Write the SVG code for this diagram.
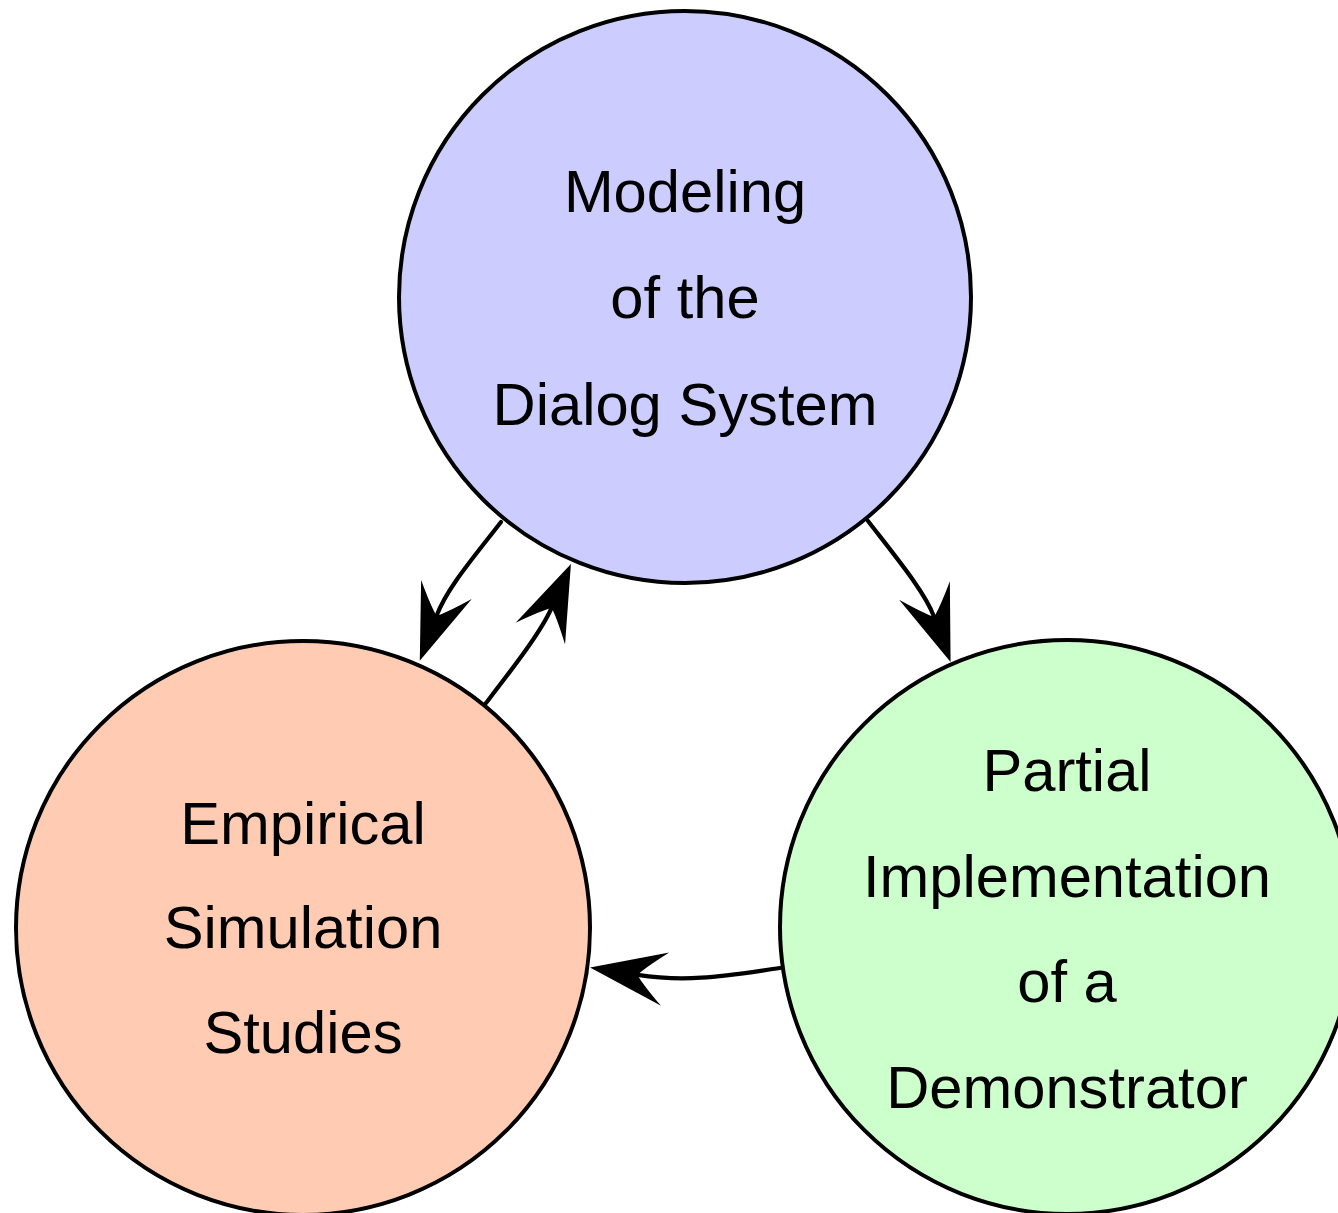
<svg xmlns="http://www.w3.org/2000/svg" width="1338" height="1213" viewBox="0 0 1338 1213">
  <style>
    .node { stroke: #000; stroke-width: 4; }
    .label { font-family: "Liberation Sans", Arial, sans-serif; font-size: 59.7px; text-anchor: middle; fill: #000; }
    .edge { fill: none; stroke: #000; stroke-width: 4.2; stroke-linecap: round; }
  </style>
  <defs>
    <!-- curved-back stealth head; origin sits at the notch, tip points +x -->
    <marker id="head" markerUnits="userSpaceOnUse" viewBox="-32 -30 84 60" markerWidth="84" markerHeight="60" refX="0" refY="0" orient="auto" overflow="visible">
      <path d="M48 0 L-28 -27 Q-6 -8 0 0 Q-6 8 -28 27 Z" fill="#000"/>
    </marker>
  </defs>

  <rect width="1338" height="1213" fill="#fff"/>

  <g id="modeling">
    <circle class="node" cx="685" cy="297" r="286" fill="#ccccff"/>
    <text class="label" x="685" y="212">Modeling</text>
    <text class="label" x="685" y="318">of the</text>
    <text class="label" x="685" y="425">Dialog System</text>
  </g>

  <g id="empirical">
    <circle class="node" cx="303" cy="928" r="287" fill="#ffccb3"/>
    <text class="label" x="303" y="844">Empirical</text>
    <text class="label" x="303" y="948">Simulation</text>
    <text class="label" x="303" y="1053">Studies</text>
  </g>

  <g id="implementation">
    <circle class="node" cx="1067" cy="927" r="287" fill="#ccffcc"/>
    <text class="label" x="1067" y="791">Partial</text>
    <text class="label" x="1067" y="897">Implementation</text>
    <text class="label" x="1067" y="1002">of a</text>
    <text class="label" x="1067" y="1108">Demonstrator</text>
  </g>

  <g id="connectors">
    <path class="edge" d="M501 522 C474 557 447 588 436.6 615.8" marker-end="url(#head)"/>
    <path class="edge" d="M486 703 C513 668 541 632 551.6 607.9" marker-end="url(#head)"/>
    <path class="edge" d="M868 521 C895 556 925 592 934.1 616.9" marker-end="url(#head)"/>
    <path class="edge" d="M780 968 C730 975 690 983 637.5 974.9" marker-end="url(#head)"/>
  </g>
</svg>
